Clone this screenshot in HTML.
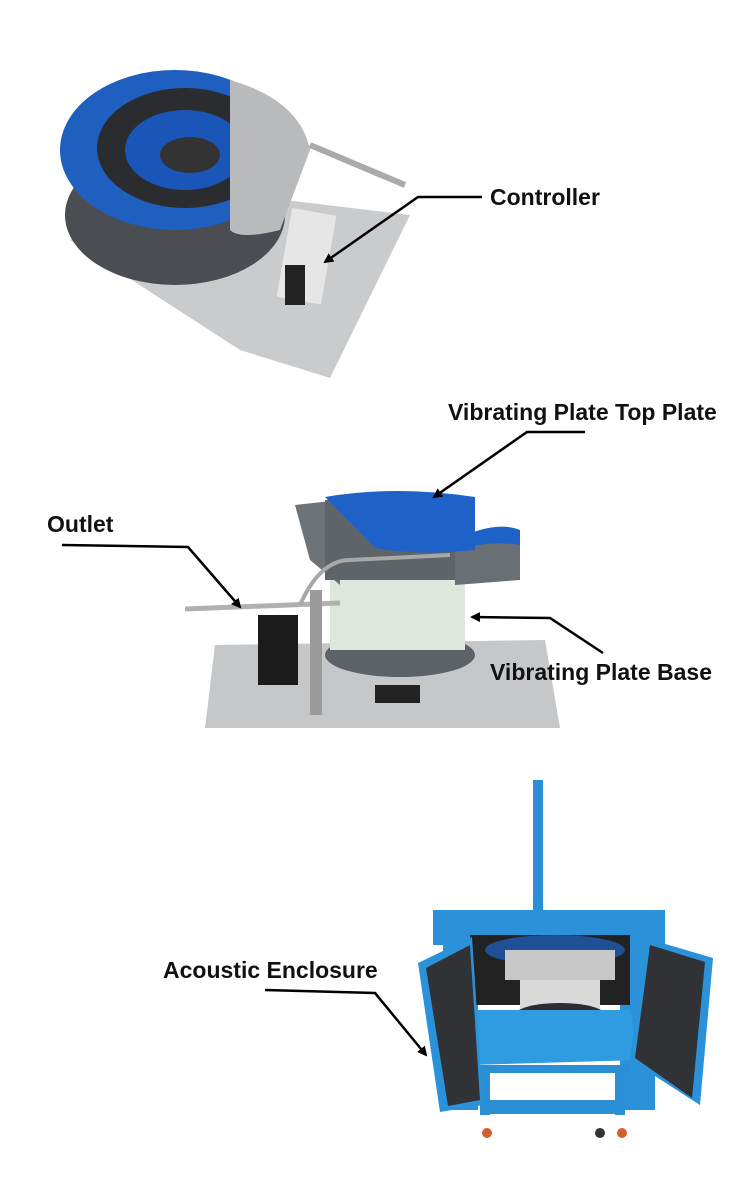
<!DOCTYPE html>
<html><head><meta charset="utf-8"><style>
html,body{margin:0;padding:0;background:#fff;width:750px;height:1200px;overflow:hidden}
svg text{font-family:"Liberation Sans",sans-serif;font-size:23px;font-weight:bold;fill:#111}
</style></head><body>
<svg width="750" height="1200" viewBox="0 0 750 1200" xmlns="http://www.w3.org/2000/svg">
<defs><marker id="a" markerWidth="10" markerHeight="10" refX="8" refY="5" orient="auto" markerUnits="userSpaceOnUse"><path d="M0,0 L10,5 L0,10 z" fill="#000"/></marker></defs>

<!-- Top feeder -->
<polygon points="70,240 200,190 410,215 330,378 240,350" fill="#c9cbcc"/>
<rect x="285" y="210" width="45" height="90" fill="#e6e6e6" transform="rotate(10 300 250)"/>
<ellipse cx="175" cy="215" rx="110" ry="70" fill="#4a4d52"/>
<ellipse cx="175" cy="150" rx="115" ry="80" fill="#1f5fbf"/>
<ellipse cx="185" cy="148" rx="88" ry="60" fill="#2a2c30"/>
<ellipse cx="185" cy="150" rx="60" ry="40" fill="#1a56b8"/>
<ellipse cx="190" cy="155" rx="30" ry="18" fill="#333"/>
<path d="M230,80 Q300,100 310,150 L280,230 Q240,240 230,230 Z" fill="#b8babc"/>
<rect x="285" y="265" width="20" height="40" fill="#222"/>
<line x1="310" y1="145" x2="405" y2="185" stroke="#aaa" stroke-width="6"/>

<text x="490" y="205">Controller</text>
<polyline points="482,197 418,197 325,262" fill="none" stroke="#000" stroke-width="2.5" marker-end="url(#a)"/>

<!-- Middle feeder -->
<polygon points="215,645 545,640 560,728 205,728" fill="#c5c7c9"/>
<rect x="258" y="615" width="40" height="70" fill="#1b1b1b"/>
<ellipse cx="400" cy="655" rx="75" ry="22" fill="#5d6266"/>
<rect x="330" y="570" width="135" height="80" fill="#dfe6dc"/>
<polygon points="295,505 340,500 340,585 310,560" fill="#6e7378"/>
<rect x="325" y="500" width="130" height="80" fill="#5f6468"/>
<polygon points="455,545 520,530 520,580 455,585" fill="#6a6f74"/>
<path d="M325,497 Q395,485 475,497 L475,550 Q420,556 375,548 Z" fill="#1e62c8"/>
<path d="M455,540 Q495,520 520,530 L520,545 Q490,540 455,550 Z" fill="#1e62c8"/>
<line x1="185" y1="609" x2="340" y2="603" stroke="#b0b0b0" stroke-width="5"/>
<path d="M300,605 Q320,560 350,560 L450,555" fill="none" stroke="#a8a8a8" stroke-width="4"/>
<rect x="310" y="590" width="12" height="125" fill="#9a9a9a"/>
<rect x="375" y="685" width="45" height="18" fill="#222"/>

<text x="448" y="420">Vibrating Plate Top Plate</text>
<polyline points="585,432 527,432 434,497" fill="none" stroke="#000" stroke-width="2.5" marker-end="url(#a)"/>
<text x="47" y="532">Outlet</text>
<polyline points="62,545 188,547 240,607" fill="none" stroke="#000" stroke-width="2.5" marker-end="url(#a)"/>
<text x="490" y="680">Vibrating Plate Base</text>
<polyline points="603,653 550,618 472,617" fill="none" stroke="#000" stroke-width="2.5" marker-end="url(#a)"/>

<!-- Enclosure -->
<rect x="533" y="780" width="10" height="135" fill="#2a8fd8"/>
<rect x="433" y="910" width="232" height="35" fill="#2b92da"/>
<rect x="443" y="935" width="35" height="175" fill="#2b92da"/>
<rect x="620" y="935" width="35" height="175" fill="#2b92da"/>
<rect x="470" y="935" width="160" height="70" fill="#222"/>
<ellipse cx="555" cy="950" rx="70" ry="15" fill="#1f4f95"/>
<rect x="505" y="950" width="110" height="30" fill="#c8c8c8"/>
<rect x="520" y="980" width="80" height="35" fill="#dadada"/>
<ellipse cx="560" cy="1015" rx="45" ry="12" fill="#2a2d33"/>
<polygon points="470,1010 630,1010 640,1060 470,1065" fill="#2f9be0"/>
<rect x="475" y="1065" width="155" height="8" fill="#2a8fd5"/>
<rect x="480" y="1100" width="145" height="14" fill="#2a8fd5"/>
<rect x="480" y="1065" width="10" height="50" fill="#2a8fd5"/>
<rect x="615" y="1065" width="10" height="50" fill="#2a8fd5"/>
<polygon points="418,963 472,937 483,1105 440,1112" fill="#2b92da"/>
<polygon points="426,968 470,945 480,1100 448,1106" fill="#303236"/>
<polygon points="645,938 713,958 700,1105 630,1060" fill="#2b92da"/>
<polygon points="650,945 705,962 692,1098 635,1058" fill="#303236"/>
<circle cx="487" cy="1133" r="5" fill="#d06030"/><circle cx="600" cy="1133" r="5" fill="#333"/><circle cx="622" cy="1133" r="5" fill="#d06030"/>

<text x="163" y="978">Acoustic Enclosure</text>
<polyline points="265,990 375,993 426,1055" fill="none" stroke="#000" stroke-width="2.5" marker-end="url(#a)"/>
</svg>
</body></html>
